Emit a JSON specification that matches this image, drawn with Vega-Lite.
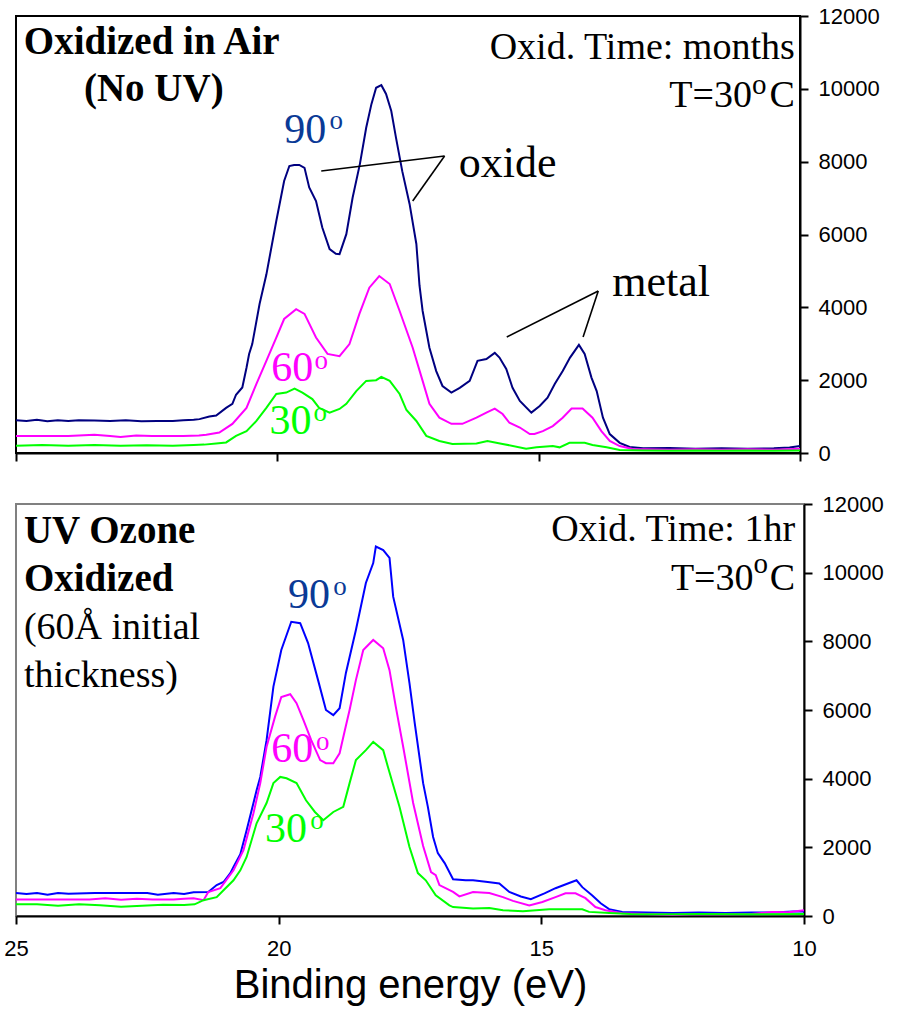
{
  "$schema": "https://vega.github.io/schema/vega-lite/v6.json",
  "background": "white",
  "padding": {"left": 2, "top": 4, "right": 0, "bottom": 0},
  "spacing": 27,
  "config": {
    "axis": {"grid": false, "domainColor": "black", "domainWidth": 2, "tickColor": "black", "tickWidth": 2, "tickSize": 8, "labelFont": "Liberation Sans", "labelFontSize": 22, "labelColor": "black", "titleColor": "black"},
    "text": {"font": "Liberation Serif"}
  },
  "resolve": {"scale": {"stroke": "independent", "fill": "independent", "x": "independent", "y": "independent"}},
  "datasets": {
    "topLines": [
      {"e":25.0,"c":900,"angle":"90"},{"e":24.8,"c":880,"angle":"90"},{"e":24.6,"c":910,"angle":"90"},{"e":24.4,"c":870,"angle":"90"},{"e":24.2,"c":900,"angle":"90"},{"e":24.0,"c":880,"angle":"90"},{"e":23.8,"c":900,"angle":"90"},{"e":23.5,"c":890,"angle":"90"},{"e":23.2,"c":880,"angle":"90"},{"e":22.9,"c":900,"angle":"90"},{"e":22.6,"c":870,"angle":"90"},{"e":22.3,"c":880,"angle":"90"},{"e":22.0,"c":880,"angle":"90"},{"e":21.8,"c":900,"angle":"90"},{"e":21.6,"c":910,"angle":"90"},{"e":21.49,"c":930,"angle":"90"},{"e":21.3,"c":1000,"angle":"90"},{"e":21.17,"c":1030,"angle":"90"},{"e":20.98,"c":1240,"angle":"90"},{"e":20.86,"c":1350,"angle":"90"},{"e":20.79,"c":1600,"angle":"90"},{"e":20.67,"c":1800,"angle":"90"},{"e":20.59,"c":2340,"angle":"90"},{"e":20.54,"c":2720,"angle":"90"},{"e":20.48,"c":2990,"angle":"90"},{"e":20.34,"c":4090,"angle":"90"},{"e":20.21,"c":4900,"angle":"90"},{"e":20.02,"c":6370,"angle":"90"},{"e":19.87,"c":7470,"angle":"90"},{"e":19.77,"c":7880,"angle":"90"},{"e":19.68,"c":7910,"angle":"90"},{"e":19.58,"c":7910,"angle":"90"},{"e":19.48,"c":7830,"angle":"90"},{"e":19.39,"c":7290,"angle":"90"},{"e":19.26,"c":6920,"angle":"90"},{"e":19.14,"c":6190,"angle":"90"},{"e":19.0,"c":5600,"angle":"90"},{"e":18.88,"c":5470,"angle":"90"},{"e":18.81,"c":5460,"angle":"90"},{"e":18.68,"c":6010,"angle":"90"},{"e":18.56,"c":7010,"angle":"90"},{"e":18.42,"c":7940,"angle":"90"},{"e":18.3,"c":8930,"angle":"90"},{"e":18.2,"c":9580,"angle":"90"},{"e":18.11,"c":10030,"angle":"90"},{"e":18.01,"c":10100,"angle":"90"},{"e":17.92,"c":9860,"angle":"90"},{"e":17.82,"c":9390,"angle":"90"},{"e":17.73,"c":8660,"angle":"90"},{"e":17.61,"c":7740,"angle":"90"},{"e":17.47,"c":6840,"angle":"90"},{"e":17.34,"c":5740,"angle":"90"},{"e":17.28,"c":4600,"angle":"90"},{"e":17.22,"c":3900,"angle":"90"},{"e":17.09,"c":2890,"angle":"90"},{"e":16.96,"c":2250,"angle":"90"},{"e":16.84,"c":1840,"angle":"90"},{"e":16.67,"c":1660,"angle":"90"},{"e":16.51,"c":1790,"angle":"90"},{"e":16.32,"c":1980,"angle":"90"},{"e":16.17,"c":2530,"angle":"90"},{"e":16.0,"c":2580,"angle":"90"},{"e":15.84,"c":2750,"angle":"90"},{"e":15.75,"c":2620,"angle":"90"},{"e":15.62,"c":2310,"angle":"90"},{"e":15.5,"c":1790,"angle":"90"},{"e":15.36,"c":1430,"angle":"90"},{"e":15.14,"c":1110,"angle":"90"},{"e":14.98,"c":1290,"angle":"90"},{"e":14.83,"c":1520,"angle":"90"},{"e":14.69,"c":1900,"angle":"90"},{"e":14.54,"c":2250,"angle":"90"},{"e":14.4,"c":2620,"angle":"90"},{"e":14.23,"c":2970,"angle":"90"},{"e":14.12,"c":2720,"angle":"90"},{"e":13.99,"c":2070,"angle":"90"},{"e":13.89,"c":1700,"angle":"90"},{"e":13.77,"c":970,"angle":"90"},{"e":13.64,"c":520,"angle":"90"},{"e":13.45,"c":280,"angle":"90"},{"e":13.26,"c":165,"angle":"90"},{"e":13.0,"c":130,"angle":"90"},{"e":12.5,"c":140,"angle":"90"},{"e":12.0,"c":120,"angle":"90"},{"e":11.5,"c":130,"angle":"90"},{"e":11.0,"c":120,"angle":"90"},{"e":10.5,"c":130,"angle":"90"},{"e":10.2,"c":150,"angle":"90"},{"e":10.0,"c":190,"angle":"90"},
      {"e":25.0,"c":470,"angle":"60"},{"e":24.5,"c":470,"angle":"60"},{"e":24.0,"c":470,"angle":"60"},{"e":23.5,"c":500,"angle":"60"},{"e":23.2,"c":470,"angle":"60"},{"e":23.0,"c":440,"angle":"60"},{"e":22.7,"c":480,"angle":"60"},{"e":22.4,"c":470,"angle":"60"},{"e":22.0,"c":470,"angle":"60"},{"e":21.8,"c":470,"angle":"60"},{"e":21.5,"c":480,"angle":"60"},{"e":21.36,"c":500,"angle":"60"},{"e":21.11,"c":560,"angle":"60"},{"e":20.86,"c":800,"angle":"60"},{"e":20.59,"c":1240,"angle":"60"},{"e":20.4,"c":1900,"angle":"60"},{"e":20.21,"c":2530,"angle":"60"},{"e":20.02,"c":3170,"angle":"60"},{"e":19.87,"c":3680,"angle":"60"},{"e":19.64,"c":3950,"angle":"60"},{"e":19.48,"c":3820,"angle":"60"},{"e":19.26,"c":3170,"angle":"60"},{"e":19.04,"c":2720,"angle":"60"},{"e":18.81,"c":2660,"angle":"60"},{"e":18.62,"c":2990,"angle":"60"},{"e":18.43,"c":3820,"angle":"60"},{"e":18.24,"c":4540,"angle":"60"},{"e":18.05,"c":4860,"angle":"60"},{"e":17.85,"c":4640,"angle":"60"},{"e":17.66,"c":3900,"angle":"60"},{"e":17.41,"c":2890,"angle":"60"},{"e":17.22,"c":1980,"angle":"60"},{"e":17.09,"c":1350,"angle":"60"},{"e":16.9,"c":970,"angle":"60"},{"e":16.67,"c":800,"angle":"60"},{"e":16.46,"c":800,"angle":"60"},{"e":16.19,"c":970,"angle":"60"},{"e":16.0,"c":1110,"angle":"60"},{"e":15.84,"c":1220,"angle":"60"},{"e":15.69,"c":1070,"angle":"60"},{"e":15.56,"c":830,"angle":"60"},{"e":15.36,"c":700,"angle":"60"},{"e":15.17,"c":520,"angle":"60"},{"e":15.08,"c":520,"angle":"60"},{"e":14.92,"c":600,"angle":"60"},{"e":14.73,"c":740,"angle":"60"},{"e":14.54,"c":970,"angle":"60"},{"e":14.37,"c":1220,"angle":"60"},{"e":14.16,"c":1220,"angle":"60"},{"e":13.97,"c":970,"angle":"60"},{"e":13.8,"c":600,"angle":"60"},{"e":13.64,"c":330,"angle":"60"},{"e":13.45,"c":190,"angle":"60"},{"e":13.2,"c":110,"angle":"60"},{"e":12.5,"c":90,"angle":"60"},{"e":12.0,"c":100,"angle":"60"},{"e":11.5,"c":90,"angle":"60"},{"e":11.0,"c":100,"angle":"60"},{"e":10.5,"c":90,"angle":"60"},{"e":10.0,"c":120,"angle":"60"},
      {"e":25.0,"c":200,"angle":"30"},{"e":24.5,"c":220,"angle":"30"},{"e":24.0,"c":200,"angle":"30"},{"e":23.5,"c":220,"angle":"30"},{"e":23.0,"c":200,"angle":"30"},{"e":22.5,"c":210,"angle":"30"},{"e":22.0,"c":200,"angle":"30"},{"e":21.6,"c":220,"angle":"30"},{"e":21.4,"c":230,"angle":"30"},{"e":21.17,"c":260,"angle":"30"},{"e":20.98,"c":290,"angle":"30"},{"e":20.79,"c":470,"angle":"30"},{"e":20.59,"c":600,"angle":"30"},{"e":20.4,"c":880,"angle":"30"},{"e":20.21,"c":1240,"angle":"30"},{"e":20.02,"c":1620,"angle":"30"},{"e":19.83,"c":1660,"angle":"30"},{"e":19.67,"c":1770,"angle":"30"},{"e":19.52,"c":1660,"angle":"30"},{"e":19.33,"c":1480,"angle":"30"},{"e":19.2,"c":1240,"angle":"30"},{"e":19.0,"c":1110,"angle":"30"},{"e":18.81,"c":1210,"angle":"30"},{"e":18.68,"c":1350,"angle":"30"},{"e":18.49,"c":1700,"angle":"30"},{"e":18.3,"c":1980,"angle":"30"},{"e":18.11,"c":2000,"angle":"30"},{"e":18.01,"c":2090,"angle":"30"},{"e":17.85,"c":1980,"angle":"30"},{"e":17.66,"c":1620,"angle":"30"},{"e":17.53,"c":1180,"angle":"30"},{"e":17.34,"c":880,"angle":"30"},{"e":17.15,"c":470,"angle":"30"},{"e":16.9,"c":330,"angle":"30"},{"e":16.65,"c":250,"angle":"30"},{"e":16.19,"c":260,"angle":"30"},{"e":15.98,"c":330,"angle":"30"},{"e":15.69,"c":250,"angle":"30"},{"e":15.24,"c":120,"angle":"30"},{"e":15.04,"c":155,"angle":"30"},{"e":14.73,"c":190,"angle":"30"},{"e":14.6,"c":155,"angle":"30"},{"e":14.41,"c":280,"angle":"30"},{"e":14.12,"c":280,"angle":"30"},{"e":13.97,"c":220,"angle":"30"},{"e":13.7,"c":155,"angle":"30"},{"e":13.45,"c":80,"angle":"30"},{"e":13.0,"c":70,"angle":"30"},{"e":12.5,"c":60,"angle":"30"},{"e":12.0,"c":70,"angle":"30"},{"e":11.5,"c":60,"angle":"30"},{"e":11.0,"c":70,"angle":"30"},{"e":10.5,"c":60,"angle":"30"},{"e":10.0,"c":70,"angle":"30"}
    ],
    "botLines": [
      {"e":25.0,"c":670,"angle":"90"},{"e":24.8,"c":640,"angle":"90"},{"e":24.6,"c":670,"angle":"90"},{"e":24.4,"c":620,"angle":"90"},{"e":24.2,"c":670,"angle":"90"},{"e":24.0,"c":650,"angle":"90"},{"e":23.5,"c":670,"angle":"90"},{"e":23.0,"c":670,"angle":"90"},{"e":22.5,"c":670,"angle":"90"},{"e":22.3,"c":620,"angle":"90"},{"e":22.0,"c":670,"angle":"90"},{"e":21.8,"c":640,"angle":"90"},{"e":21.62,"c":690,"angle":"90"},{"e":21.34,"c":700,"angle":"90"},{"e":21.18,"c":900,"angle":"90"},{"e":21.05,"c":990,"angle":"90"},{"e":20.92,"c":1250,"angle":"90"},{"e":20.86,"c":1430,"angle":"90"},{"e":20.73,"c":1800,"angle":"90"},{"e":20.61,"c":2500,"angle":"90"},{"e":20.48,"c":3290,"angle":"90"},{"e":20.42,"c":3660,"angle":"90"},{"e":20.35,"c":4050,"angle":"90"},{"e":20.23,"c":5120,"angle":"90"},{"e":20.1,"c":6680,"angle":"90"},{"e":19.95,"c":7750,"angle":"90"},{"e":19.76,"c":8570,"angle":"90"},{"e":19.59,"c":8530,"angle":"90"},{"e":19.44,"c":7950,"angle":"90"},{"e":19.25,"c":6870,"angle":"90"},{"e":19.1,"c":6000,"angle":"90"},{"e":18.96,"c":5850,"angle":"90"},{"e":18.84,"c":6050,"angle":"90"},{"e":18.72,"c":7080,"angle":"90"},{"e":18.53,"c":8330,"angle":"90"},{"e":18.34,"c":9700,"angle":"90"},{"e":18.2,"c":10280,"angle":"90"},{"e":18.15,"c":10760,"angle":"90"},{"e":18.01,"c":10660,"angle":"90"},{"e":17.89,"c":10430,"angle":"90"},{"e":17.82,"c":9300,"angle":"90"},{"e":17.63,"c":8040,"angle":"90"},{"e":17.51,"c":6780,"angle":"90"},{"e":17.41,"c":5620,"angle":"90"},{"e":17.25,"c":3870,"angle":"90"},{"e":17.16,"c":3180,"angle":"90"},{"e":17.06,"c":2300,"angle":"90"},{"e":16.97,"c":1830,"angle":"90"},{"e":16.84,"c":1540,"angle":"90"},{"e":16.68,"c":1070,"angle":"90"},{"e":16.44,"c":1040,"angle":"90"},{"e":16.3,"c":1040,"angle":"90"},{"e":16.02,"c":990,"angle":"90"},{"e":15.8,"c":950,"angle":"90"},{"e":15.61,"c":700,"angle":"90"},{"e":15.39,"c":570,"angle":"90"},{"e":15.2,"c":490,"angle":"90"},{"e":14.94,"c":660,"angle":"90"},{"e":14.73,"c":810,"angle":"90"},{"e":14.47,"c":960,"angle":"90"},{"e":14.33,"c":1040,"angle":"90"},{"e":14.22,"c":840,"angle":"90"},{"e":14.03,"c":600,"angle":"90"},{"e":13.87,"c":370,"angle":"90"},{"e":13.71,"c":200,"angle":"90"},{"e":13.46,"c":120,"angle":"90"},{"e":13.0,"c":100,"angle":"90"},{"e":12.5,"c":90,"angle":"90"},{"e":12.0,"c":100,"angle":"90"},{"e":11.5,"c":90,"angle":"90"},{"e":11.0,"c":100,"angle":"90"},{"e":10.5,"c":110,"angle":"90"},{"e":10.2,"c":130,"angle":"90"},{"e":10.0,"c":130,"angle":"90"},
      {"e":25.0,"c":480,"angle":"60"},{"e":24.5,"c":480,"angle":"60"},{"e":24.0,"c":480,"angle":"60"},{"e":23.6,"c":480,"angle":"60"},{"e":23.3,"c":520,"angle":"60"},{"e":23.0,"c":470,"angle":"60"},{"e":22.7,"c":500,"angle":"60"},{"e":22.4,"c":480,"angle":"60"},{"e":22.0,"c":480,"angle":"60"},{"e":21.8,"c":500,"angle":"60"},{"e":21.62,"c":520,"angle":"60"},{"e":21.43,"c":460,"angle":"60"},{"e":21.34,"c":700,"angle":"60"},{"e":21.11,"c":810,"angle":"60"},{"e":20.86,"c":1330,"angle":"60"},{"e":20.67,"c":1920,"angle":"60"},{"e":20.48,"c":2990,"angle":"60"},{"e":20.35,"c":3870,"angle":"60"},{"e":20.23,"c":4930,"angle":"60"},{"e":20.07,"c":5800,"angle":"60"},{"e":19.95,"c":6380,"angle":"60"},{"e":19.78,"c":6460,"angle":"60"},{"e":19.66,"c":6200,"angle":"60"},{"e":19.53,"c":5710,"angle":"60"},{"e":19.38,"c":5120,"angle":"60"},{"e":19.21,"c":4540,"angle":"60"},{"e":19.1,"c":4450,"angle":"60"},{"e":18.96,"c":4450,"angle":"60"},{"e":18.84,"c":4740,"angle":"60"},{"e":18.74,"c":5410,"angle":"60"},{"e":18.65,"c":6000,"angle":"60"},{"e":18.53,"c":6870,"angle":"60"},{"e":18.39,"c":7750,"angle":"60"},{"e":18.2,"c":8040,"angle":"60"},{"e":18.01,"c":7800,"angle":"60"},{"e":17.89,"c":7160,"angle":"60"},{"e":17.77,"c":6090,"angle":"60"},{"e":17.63,"c":4930,"angle":"60"},{"e":17.44,"c":3290,"angle":"60"},{"e":17.25,"c":2040,"angle":"60"},{"e":17.1,"c":1280,"angle":"60"},{"e":17.01,"c":1190,"angle":"60"},{"e":16.94,"c":900,"angle":"60"},{"e":16.68,"c":700,"angle":"60"},{"e":16.56,"c":570,"angle":"60"},{"e":16.3,"c":700,"angle":"60"},{"e":15.99,"c":670,"angle":"60"},{"e":15.73,"c":550,"angle":"60"},{"e":15.54,"c":440,"angle":"60"},{"e":15.23,"c":310,"angle":"60"},{"e":14.98,"c":410,"angle":"60"},{"e":14.73,"c":550,"angle":"60"},{"e":14.54,"c":660,"angle":"60"},{"e":14.35,"c":660,"angle":"60"},{"e":14.16,"c":520,"angle":"60"},{"e":13.97,"c":260,"angle":"60"},{"e":13.78,"c":170,"angle":"60"},{"e":13.46,"c":80,"angle":"60"},{"e":13.0,"c":60,"angle":"60"},{"e":12.5,"c":40,"angle":"60"},{"e":12.0,"c":60,"angle":"60"},{"e":11.5,"c":50,"angle":"60"},{"e":11.0,"c":60,"angle":"60"},{"e":10.6,"c":120,"angle":"60"},{"e":10.3,"c":110,"angle":"60"},{"e":10.0,"c":170,"angle":"60"},
      {"e":25.0,"c":340,"angle":"30"},{"e":24.6,"c":340,"angle":"30"},{"e":24.2,"c":300,"angle":"30"},{"e":23.8,"c":340,"angle":"30"},{"e":23.4,"c":310,"angle":"30"},{"e":23.0,"c":270,"angle":"30"},{"e":22.6,"c":300,"angle":"30"},{"e":22.2,"c":330,"angle":"30"},{"e":21.8,"c":320,"angle":"30"},{"e":21.6,"c":340,"angle":"30"},{"e":21.43,"c":460,"angle":"30"},{"e":21.18,"c":550,"angle":"30"},{"e":21.05,"c":750,"angle":"30"},{"e":20.86,"c":1040,"angle":"30"},{"e":20.73,"c":1330,"angle":"30"},{"e":20.61,"c":1720,"angle":"30"},{"e":20.42,"c":2700,"angle":"30"},{"e":20.23,"c":3290,"angle":"30"},{"e":20.1,"c":3870,"angle":"30"},{"e":19.97,"c":4050,"angle":"30"},{"e":19.85,"c":4010,"angle":"30"},{"e":19.66,"c":3870,"angle":"30"},{"e":19.48,"c":3370,"angle":"30"},{"e":19.31,"c":3030,"angle":"30"},{"e":19.15,"c":2790,"angle":"30"},{"e":18.96,"c":3030,"angle":"30"},{"e":18.77,"c":3180,"angle":"30"},{"e":18.65,"c":3870,"angle":"30"},{"e":18.53,"c":4540,"angle":"30"},{"e":18.34,"c":4830,"angle":"30"},{"e":18.2,"c":5070,"angle":"30"},{"e":18.01,"c":4830,"angle":"30"},{"e":17.92,"c":4340,"angle":"30"},{"e":17.7,"c":3180,"angle":"30"},{"e":17.51,"c":2010,"angle":"30"},{"e":17.35,"c":1250,"angle":"30"},{"e":17.2,"c":1040,"angle":"30"},{"e":17.01,"c":600,"angle":"30"},{"e":16.75,"c":310,"angle":"30"},{"e":16.68,"c":260,"angle":"30"},{"e":16.3,"c":220,"angle":"30"},{"e":15.99,"c":230,"angle":"30"},{"e":15.73,"c":170,"angle":"30"},{"e":15.35,"c":140,"angle":"30"},{"e":14.85,"c":195,"angle":"30"},{"e":14.22,"c":195,"angle":"30"},{"e":14.09,"c":120,"angle":"30"},{"e":13.71,"c":90,"angle":"30"},{"e":13.3,"c":60,"angle":"30"},{"e":12.5,"c":50,"angle":"30"},{"e":12.0,"c":60,"angle":"30"},{"e":11.0,"c":50,"angle":"30"},{"e":10.0,"c":60,"angle":"30"}
    ]
  },
  "vconcat": [
    {
      "width": 784,
      "height": 437,
      "view": {"stroke": "black", "strokeWidth": 2},
      "encoding": {
        "x": {"field": "e", "type": "quantitative", "scale": {"domain": [10, 25], "reverse": true, "nice": false, "zero": false},
              "axis": {"values": [10, 15, 20, 25], "labels": false, "title": null}},
        "y": {"field": "c", "type": "quantitative", "scale": {"domain": [0, 12000], "nice": false},
              "axis": {"orient": "right", "values": [0, 2000, 4000, 6000, 8000, 10000, 12000], "format": "d", "labelPadding": 10, "title": null}}
      },
      "layer": [
        {"data": {"name": "topLines"}, "mark": {"type": "line", "strokeWidth": 2},
         "encoding": {"stroke": {"field": "angle", "type": "nominal", "scale": {"domain": ["90", "60", "30"], "range": ["#000080", "#FF00FF", "#00FF00"]}, "legend": null}}},
        {"data": {"values": [{"e": 19.16, "c": 7744, "e2": 16.8, "c2": 8156}, {"e": 16.8, "c": 8156, "e2": 17.41, "c2": 6920}, {"e": 15.61, "c": 3185, "e2": 13.86, "c2": 4449}, {"e": 13.86, "c": 4449, "e2": 14.15, "c2": 3185}]},
         "mark": {"type": "rule", "color": "black", "strokeWidth": 1.6},
         "encoding": {"x2": {"field": "e2"}, "y2": {"field": "c2"}}},
        {"data": {"values": [{"e": 24.85, "c": 10957, "t": "Oxidized in Air"}, {"e": 23.7, "c": 9666, "t": "(No UV)"}]},
         "mark": {"type": "text", "align": "left", "baseline": "alphabetic", "fontSize": 39, "fontWeight": "bold", "color": "black"},
         "encoding": {"text": {"field": "t"}}},
        {"data": {"values": [{"e": 10.1, "c": 10819, "t": "Oxid. Time: months"}, {"e": 10.92, "c": 9501, "t": "T=30"}, {"e": 10.1, "c": 9501, "t": "C"}]},
         "mark": {"type": "text", "align": "right", "baseline": "alphabetic", "fontSize": 38, "color": "black"},
         "encoding": {"text": {"field": "t"}}},
        {"data": {"values": [{"e": 10.92, "c": 9858, "t": "o"}]},
         "mark": {"type": "text", "align": "left", "baseline": "alphabetic", "fontSize": 29, "color": "black"},
         "encoding": {"text": {"field": "t"}}},
        {"data": {"values": [{"e": 16.53, "c": 7579, "t": "oxide"}, {"e": 13.59, "c": 4311, "t": "metal"}]},
         "mark": {"type": "text", "align": "left", "baseline": "alphabetic", "fontSize": 44, "color": "black"},
         "encoding": {"text": {"field": "t"}}},
        {"data": {"values": [{"e": 19.87, "c": 8521, "angle": "90"}, {"e": 20.115, "c": 1977, "angle": "60"}, {"e": 20.15, "c": 530, "angle": "30"}]},
         "mark": {"type": "text", "align": "left", "baseline": "alphabetic", "fontSize": 42},
         "encoding": {"text": {"field": "angle"}, "fill": {"field": "angle", "type": "nominal", "scale": {"domain": ["90", "60", "30"], "range": ["#0a3a96", "#FF00FF", "#00FF00"]}, "legend": null}}},
        {"data": {"values": [{"e": 19.0, "c": 8897, "angle": "90", "t": "o"}, {"e": 19.29, "c": 2307, "angle": "60", "t": "o"}, {"e": 19.31, "c": 879, "angle": "30", "t": "o"}]},
         "mark": {"type": "text", "align": "left", "baseline": "alphabetic", "fontSize": 27},
         "encoding": {"text": {"field": "t"}, "fill": {"field": "angle", "type": "nominal", "scale": {"domain": ["90", "60", "30"], "range": ["#0a3a96", "#FF00FF", "#00FF00"]}, "legend": null}}}
      ]
    },
    {
      "width": 788,
      "height": 412,
      "view": {"stroke": "#808080", "strokeWidth": 2},
      "encoding": {
        "x": {"field": "e", "type": "quantitative", "scale": {"domain": [10, 25], "reverse": true, "nice": false, "zero": false},
              "axis": {"values": [10, 15, 20, 25], "format": "d", "labelFlush": false, "labelPadding": 14, "title": "Binding energy (eV)", "titleFont": "Liberation Sans", "titleFontSize": 40, "titleFontWeight": "normal", "titlePadding": 6}},
        "y": {"field": "c", "type": "quantitative", "scale": {"domain": [0, 12000], "nice": false},
              "axis": {"orient": "right", "values": [0, 2000, 4000, 6000, 8000, 10000, 12000], "format": "d", "labelPadding": 10, "title": null}}
      },
      "layer": [
        {"data": {"name": "botLines"}, "mark": {"type": "line", "strokeWidth": 2},
         "encoding": {"stroke": {"field": "angle", "type": "nominal", "scale": {"domain": ["90", "60", "30"], "range": ["#0000FF", "#FF00FF", "#00FF00"]}, "legend": null}}},
        {"data": {"values": [{"e": 24.85, "c": 10856, "t": "UV Ozone"}, {"e": 24.85, "c": 9465, "t": "Oxidized"}]},
         "mark": {"type": "text", "align": "left", "baseline": "alphabetic", "fontSize": 39, "fontWeight": "bold", "color": "black"},
         "encoding": {"text": {"field": "t"}}},
        {"data": {"values": [{"e": 24.85, "c": 8057, "t": "(60Å initial"}, {"e": 24.85, "c": 6675, "t": "thickness)"}]},
         "mark": {"type": "text", "align": "left", "baseline": "alphabetic", "fontSize": 38, "color": "black"},
         "encoding": {"text": {"field": "t"}}},
        {"data": {"values": [{"e": 10.17, "c": 10930, "t": "Oxid. Time: 1hr"}, {"e": 10.96, "c": 9494, "t": "T=30"}, {"e": 10.17, "c": 9494, "t": "C"}]},
         "mark": {"type": "text", "align": "right", "baseline": "alphabetic", "fontSize": 38, "color": "black"},
         "encoding": {"text": {"field": "t"}}},
        {"data": {"values": [{"e": 10.96, "c": 9990, "t": "o"}]},
         "mark": {"type": "text", "align": "left", "baseline": "alphabetic", "fontSize": 29, "color": "black"},
         "encoding": {"text": {"field": "t"}}},
        {"data": {"values": [{"e": 19.82, "c": 8961, "angle": "90"}, {"e": 20.14, "c": 4489, "angle": "60"}, {"e": 20.26, "c": 2157, "angle": "30"}]},
         "mark": {"type": "text", "align": "left", "baseline": "alphabetic", "fontSize": 42},
         "encoding": {"text": {"field": "angle"}, "fill": {"field": "angle", "type": "nominal", "scale": {"domain": ["90", "60", "30"], "range": ["#0a3a96", "#FF00FF", "#00FF00"]}, "legend": null}}},
        {"data": {"values": [{"e": 18.96, "c": 9348, "angle": "90", "t": "o"}, {"e": 19.29, "c": 4830, "angle": "60", "t": "o"}, {"e": 19.4, "c": 2548, "angle": "30", "t": "o"}]},
         "mark": {"type": "text", "align": "left", "baseline": "alphabetic", "fontSize": 27},
         "encoding": {"text": {"field": "t"}, "fill": {"field": "angle", "type": "nominal", "scale": {"domain": ["90", "60", "30"], "range": ["#0a3a96", "#FF00FF", "#00FF00"]}, "legend": null}}}
      ]
    }
  ]
}
